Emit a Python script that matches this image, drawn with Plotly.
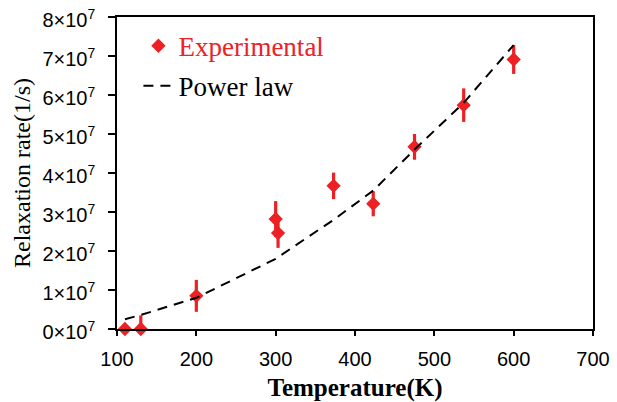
import plotly.graph_objects as go

# Experimental data
temperature = [110, 130, 200, 300, 303, 373, 423, 475, 537, 600]
rate_e7 = [0.0, 0.0, 0.85, 2.82, 2.46, 3.67, 3.21, 4.67, 5.74, 6.91]
err_e7 = [0.0, 0.35, 0.41, 0.46, 0.38, 0.34, 0.32, 0.33, 0.43, 0.37]

# Power-law fit curve (read at the data temperatures)
fit_temperature = [110, 130, 200, 300, 373, 423, 475, 537, 600]
fit_rate_e7 = [0.25, 0.36, 0.80, 1.80, 2.80, 3.55, 4.60, 5.80, 7.28]

x_ticks = [100, 200, 300, 400, 500, 600, 700]
y_ticks_e7 = [0, 1, 2, 3, 4, 5, 6, 7, 8]

RED = "rgb(237,32,36)"
scale = 1e7

fig = go.Figure()
fig.add_trace(go.Scatter(
    x=temperature, y=[v * scale for v in rate_e7],
    mode="markers",
    name=f"<span style='color:{RED}'>Experimental</span>",
    legendgroup="a", legendrank=1,
    marker=dict(symbol="diamond", size=11, color=RED),
    error_y=dict(type="data", array=[e * scale for e in err_e7],
                 color=RED, thickness=3.2, width=0),
    cliponaxis=False,
))
fig.add_trace(go.Scatter(
    x=fit_temperature, y=[v * scale for v in fit_rate_e7],
    mode="lines", name="Power law", legendgroup="b", legendrank=2,
    line=dict(color="black", width=2, dash="10px,7px"),
))

fig.update_layout(
    template="none",
    width=617, height=402,
    margin=dict(l=117, r=24, t=17, b=73, autoexpand=False),
    paper_bgcolor="white", plot_bgcolor="white",
    showlegend=True,
    legend=dict(x=0.045, y=0.985, xanchor="left", yanchor="top",
                bgcolor="rgba(0,0,0,0)", tracegroupgap=2,
                traceorder="grouped",
                font=dict(family="Liberation Serif", size=27, color="black")),
    font=dict(family="Liberation Sans", size=20, color="black"),
)
fig.update_xaxes(
    range=[100, 700], tickvals=x_ticks, automargin=False,
    ticks="outside", ticklen=5, tickwidth=1.5, tickcolor="black",
    ticklabelstandoff=6, ticklabeloverflow="allow",
    showline=True, linecolor="black", linewidth=1.5, mirror=True,
    showgrid=False, zeroline=False,
    tickfont=dict(family="Liberation Sans", size=20),
    title=dict(text="<b>Temperature(K)</b>", standoff=11,
               font=dict(family="Liberation Serif", size=25)),
)
fig.update_yaxes(
    range=[0, 8e7], tickvals=[v * scale for v in y_ticks_e7], automargin=False,
    ticktext=[f"{v}×10<sup>7</sup>" for v in y_ticks_e7],
    ticks="outside", ticklen=7, tickwidth=1.5, tickcolor="black",
    ticklabelstandoff=9, ticklabeloverflow="allow", ticklabelshift=3,
    showline=True, linecolor="black", linewidth=1.5, mirror=True,
    showgrid=False, zeroline=False,
    tickfont=dict(family="Liberation Sans", size=20),
    title=dict(text="Relaxation rate(1/s)", standoff=5,
               font=dict(family="Liberation Serif", size=24)),
)

fig.write_html(
    "out.html",
    config={"displayModeBar": False},
    post_script="document.body.style.margin='0';document.body.style.overflow='hidden';",
)
